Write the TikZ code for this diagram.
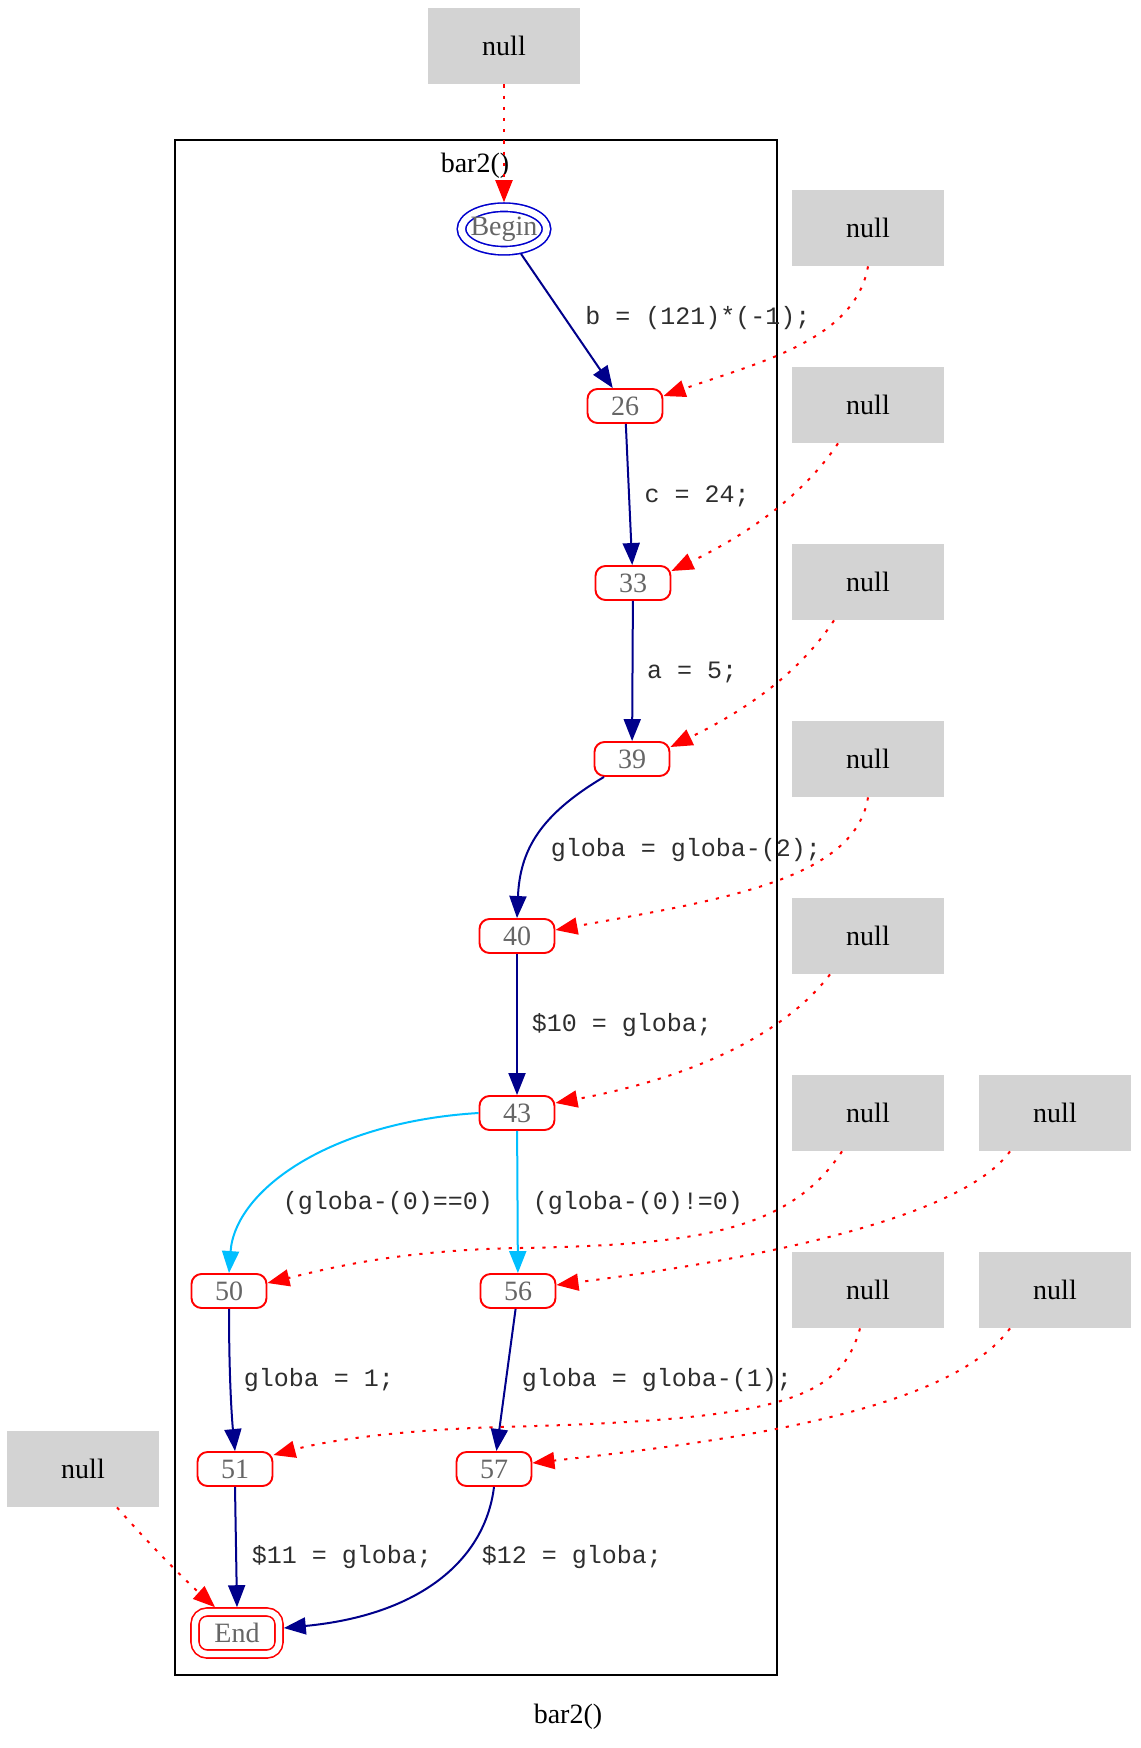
\documentclass[tikz,border=0pt]{standalone}
\usepackage{fontspec}
\setmainfont{Liberation Serif}
\setmonofont{Liberation Mono}
\usetikzlibrary{arrows.meta,shapes.geometric}
\definecolor{nodegray}{HTML}{666666}
\definecolor{nullfill}{HTML}{D3D3D3}
\definecolor{edgenavy}{HTML}{00008B}
\definecolor{edgecyan}{HTML}{00BFFF}
\definecolor{beginblue}{HTML}{0000CD}
\definecolor{lblgray}{HTML}{2E2E2E}
\begin{document}
\begin{tikzpicture}[x=0.5pt,y=-0.5pt,
  serif14/.style={font=\fontsize{14}{16}\selectfont},
  nullbox/.style={serif14, fill=nullfill, minimum width=76pt, minimum height=38pt, inner sep=0pt},
  stmt/.style={serif14, draw=red, line width=0.95pt, rounded corners=5pt, minimum width=37.5pt, minimum height=17pt, inner sep=0pt, text=nodegray},
  beginnode/.style={serif14, ellipse, draw=beginblue, line width=0.8pt, double=white, double distance=3.4pt, minimum width=42.5pt, minimum height=21.75pt, inner sep=0pt, outer sep=2.5pt, text=nodegray},
  endnode/.style={serif14, draw=red, line width=0.8pt, double=white, double distance=3.2pt, rounded corners=6pt, minimum width=42pt, minimum height=21pt, inner sep=0pt, outer sep=2.4pt, text=nodegray},
  elabel/.style={font=\ttfamily\fontsize{12.5}{14}\selectfont, text=lblgray, inner sep=0pt},
  tip/.style={-{Triangle[length=11pt,width=8.5pt]}},
  flow/.style={tip, edgenavy, line width=1pt},
  cond/.style={tip, edgecyan, line width=1pt},
  dotedge/.style={tip, red, line width=1pt, dash pattern=on 1.6pt off 4pt},
  clusterbox/.style={draw=black, line width=1pt}
]
\useasboundingbox (0,0) rectangle (1140,1748);

% cluster
\draw[clusterbox] (175,140) rectangle (777,1675);
\node[serif14, inner sep=0pt] (clab) at (475,166) {bar2()};
\node[serif14, inner sep=0pt] (caption) at (568,1717) {bar2()};

% null boxes
\node[nullbox] (ntop) at (504,46) {null};
\node[nullbox] (n1) at (868,228) {null};
\node[nullbox] (n2) at (868,405) {null};
\node[nullbox] (n3) at (868,582) {null};
\node[nullbox] (n4) at (868,759) {null};
\node[nullbox] (n5) at (868,936) {null};
\node[nullbox] (n6) at (868,1113) {null};
\node[nullbox] (n7) at (1055,1113) {null};
\node[nullbox] (n8) at (868,1290) {null};
\node[nullbox] (n9) at (1055,1290) {null};
\node[nullbox] (nleft) at (83,1469) {null};

% flow nodes
\node[beginnode] (Begin) at (504,229) {\makebox[0pt]{Begin}};
\node[stmt] (s26) at (625,406) {26};
\node[stmt] (s33) at (633,583) {33};
\node[stmt] (s39) at (632,759) {39};
\node[stmt] (s40) at (517,936) {40};
\node[stmt] (s43) at (517,1113) {43};
\node[stmt] (s50) at (229,1291) {50};
\node[stmt] (s56) at (518,1291) {56};
\node[stmt] (s51) at (235,1469) {51};
\node[stmt] (s57) at (494,1469) {57};
\node[endnode] (End) at (237,1633) {End};

% solid edges
\draw[flow] (Begin) -- (s26);
\draw[flow] (s26) -- (s33);
\draw[flow] (s33) -- (s39);
\draw[flow] ([xshift=-14pt]s39.south) .. controls (540,815) and (520,850) .. (s40.north);
\draw[flow] (s40) -- (s43);
\draw[cond] (s43.west) .. controls (330,1122) and (235,1190) .. (s50.north);
\draw[cond] (s43) -- (s56);
\draw[flow] (s50.south) .. controls (229,1380) and (232,1420) .. (s51.north);
\draw[flow] (s56) -- (s57);
\draw[flow] (s51.south) -- (End.north);
\draw[flow] (s57.south) .. controls (485,1560) and (420,1615) .. ([yshift=2.5pt]End.east);

% edge labels
\node[elabel] (l1) at (698,318) {b = (121)*(-1);};
\node[elabel] (l2) at (697,496) {c = 24;};
\node[elabel] (l3) at (692,672) {a = 5;};
\node[elabel] (l4) at (686,850) {globa = globa-(2);};
\node[elabel] (l5) at (622,1025) {\$10 = globa;};
\node[elabel] (l6) at (388,1203) {(globa-(0)==0)};
\node[elabel] (l7) at (638,1203) {(globa-(0)!=0)};
\node[elabel] (l8) at (319,1380) {globa = 1;};
\node[elabel] (l9) at (657,1380) {globa = globa-(1);};
\node[elabel] (l10) at (342,1557) {\$11 = globa;};
\node[elabel] (l11) at (572,1557) {\$12 = globa;};

% dotted edges
\draw[dotedge] (ntop.south) -- (Begin.north);
\draw[dotedge] (n1.south) .. controls (855,340) and (760,362) .. ([yshift=5pt]s26.east);
\draw[dotedge] ([xshift=-15pt]n2.south) .. controls (800,500) and (740,538) .. ([yshift=6pt]s33.east);
\draw[dotedge] ([xshift=-17pt]n3.south) .. controls (796,678) and (738,714) .. ([yshift=6pt]s39.east);
\draw[dotedge] (n4.south) .. controls (855,880) and (720,900) .. ([yshift=3pt]s40.east);
\draw[dotedge] ([xshift=-19pt]n5.south) .. controls (780,1040) and (680,1080) .. ([yshift=5pt]s43.east);
\draw[dotedge] ([xshift=-13pt]n6.south) .. controls (790,1230) and (700,1245) .. (520,1248) .. controls (400,1250) and (330,1268) .. ([yshift=4pt]s50.east);
\draw[dotedge] ([xshift=-22.5pt]n7.south) .. controls (960,1220) and (750,1260) .. ([yshift=3pt]s56.east);
\draw[dotedge] ([xshift=-4pt]n8.south) .. controls (840,1400) and (780,1420) .. (500,1427) .. controls (400,1430) and (330,1440) .. ([yshift=7pt]s51.east);
\draw[dotedge] ([xshift=-22.5pt]n9.south) .. controls (950,1410) and (740,1440) .. ([yshift=3pt]s57.east);
\draw[dotedge] ([xshift=17pt]nleft.south) .. controls (150,1545) and (185,1580) .. ([xshift=-11pt]End.north);
\end{tikzpicture}
\end{document}
